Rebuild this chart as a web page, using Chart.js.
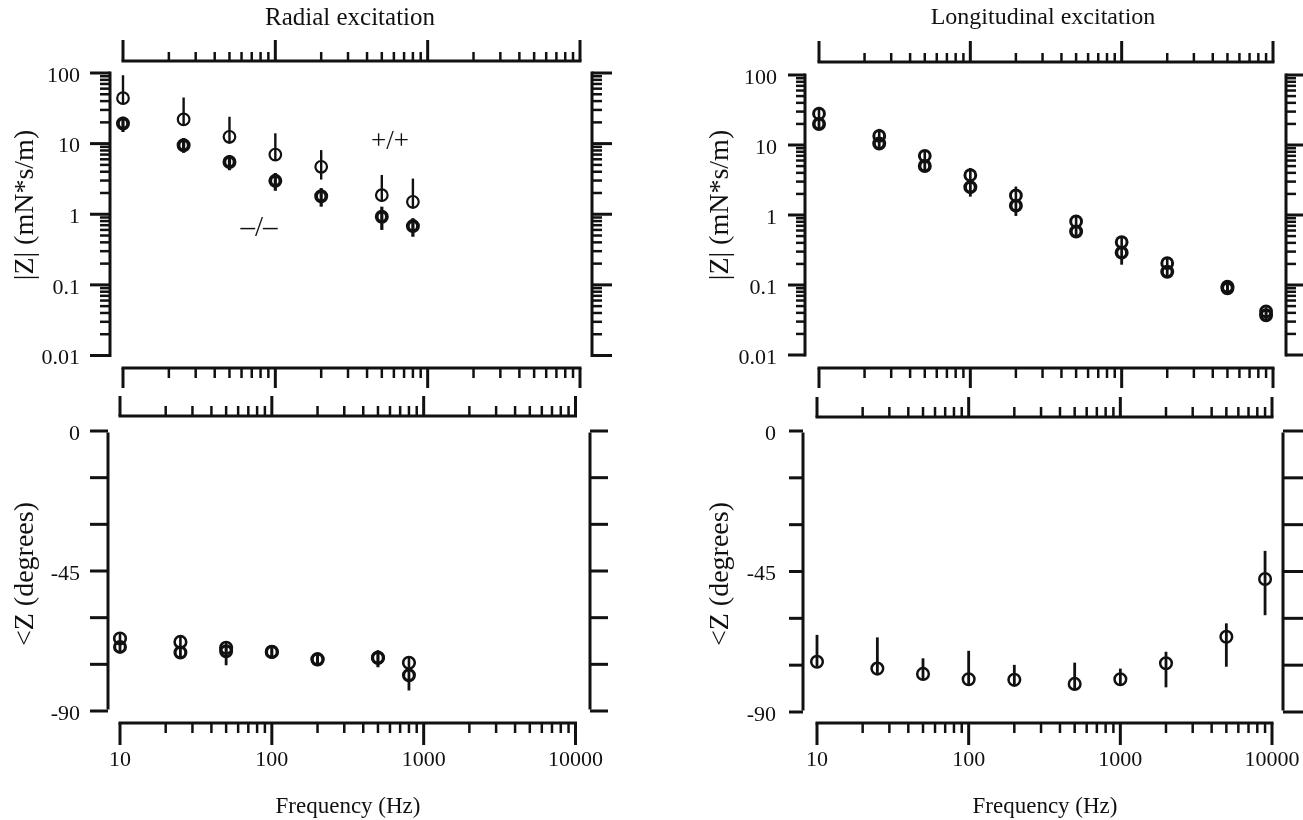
<!DOCTYPE html>
<html>
<head>
<meta charset="utf-8">
<script src="https://cdn.jsdelivr.net/npm/chart.js@4.4.1/dist/chart.umd.min.js"></script>
<style>
  html, body { margin: 0; padding: 0; background: #fff; }
  #wrap { position: relative; width: 1303px; height: 820px; overflow: hidden; }
  #wrap canvas { position: absolute; left: 0; top: 0; }
</style>
</head>
<body>
<div id="wrap">
  <canvas id="magRadial" width="1303" height="820"></canvas>
  <canvas id="phaseRadial" width="1303" height="820"></canvas>
  <canvas id="magLong" width="1303" height="820"></canvas>
  <canvas id="phaseLong" width="1303" height="820"></canvas>
</div>
<script>
// --- datos ---
const freqRadial = [10, 25, 50, 100, 200, 500, 800];
const magRadialPP = [44, 22, 12.5, 7.0, 4.7, 1.86, 1.5];
const magRadialPPHi = [93, 45, 24, 14, 8.1, 3.6, 3.2];
const magRadialPPLo = [36, 18, 10, 5.7, 3.1, 1.5, 1.2];
const magRadialMM = [19.3, 9.5, 5.5, 2.97, 1.8, 0.92, 0.68];
const magRadialMMHi = [24, 12, 6.9, 3.84, 2.35, 1.28, 0.88];
const magRadialMMLo = [14.6, 7.4, 4.2, 2.15, 1.28, 0.6, 0.48];

const phaseRadialPP = [-66.7, -67.8, -69.7, -71.0, -73.4, -72.9, -74.5];
const phaseRadialPPHi = [-65.0, -65.7, -68.0, -69.5, -72.0, -70.5, -72.6];
const phaseRadialPPLo = [-68.5, -69.5, -71.5, -72.5, -75.0, -75.9, -76.0];
const phaseRadialMM = [-69.4, -71.2, -70.8, -71.0, -73.4, -72.9, -78.5];
const phaseRadialMMHi = [-68.0, -70.0, -69.0, -69.5, -72.0, -70.5, -76.5];
const phaseRadialMMLo = [-71.0, -73.0, -75.3, -72.5, -75.0, -75.9, -83.4];

const freqLong = [10, 25, 50, 100, 200, 500, 1000, 2000, 5000, 9000];
const magLongA = [28, 13.5, 7.0, 3.7, 1.9, 0.81, 0.41, 0.205, 0.095, 0.042];
const magLongAHi = [35, 17, 8.5, 4.7, 2.55, 1.0, 0.5, 0.25, 0.11, 0.048];
const magLongALo = [24, 11.5, 6.0, 3.2, 1.6, 0.7, 0.35, 0.18, 0.085, 0.038];
const magLongB = [20, 10.5, 5.0, 2.5, 1.36, 0.58, 0.29, 0.155, 0.09, 0.037];
const magLongBHi = [23, 12, 5.8, 2.9, 1.6, 0.67, 0.34, 0.18, 0.1, 0.042];
const magLongBLo = [16.5, 8.6, 4.1, 1.83, 0.97, 0.48, 0.195, 0.128, 0.078, 0.032];

const phaseLongVals = [-73.9, -76.1, -77.8, -79.5, -79.7, -81.0, -79.5, -74.4, -65.9, -47.4];
const phaseLongHi = [-65.3, -66.1, -72.8, -70.4, -74.9, -74.2, -76.1, -70.7, -61.6, -38.4];
const phaseLongLo = [-75.5, -77.8, -79.5, -81.3, -81.4, -82.7, -81.2, -82.1, -75.5, -59.0];

const freqTicks = [10, 100, 1000, 10000];
const freqTickLabels = ['10', '100', '1000', '10000'];
const magTicks = [0.01, 0.1, 1, 10, 100];
const magTickLabels = ['0.01', '0.1', '1', '10', '100'];
const phaseTicks = [0, -15, -30, -45, -60, -75, -90];
const phaseLabelTicks = [0, -45, -90];
const phaseTickLabels = ['0', '-45', '-90'];

const W = 1303, H = 820;
const INK = '#111';
const FONT = "'Liberation Serif', 'Times New Roman', serif";

function logMinors(majors) {
    const out = [];
    for (let i = 0; i < majors.length - 1; i++)
        for (let k = 2; k < 10; k++) out.push(majors[i] * k);
    return out;
}
const freqMinor = logMinors(freqTicks);
const magMinor = logMinors(magTicks);

function line(ctx, x0, y0, x1, y1, w) {
    ctx.lineWidth = w;
    ctx.beginPath(); ctx.moveTo(x0, y0); ctx.lineTo(x1, y1); ctx.stroke();
}

// ejes "separados" tipo marco + barras de error, todo con las escalas de Chart.js
const framePlugin = {
    id: 'frame',
    afterDatasetsDraw(chart, args, o) {
        const ctx = chart.ctx, xs = chart.scales.x, ys = chart.scales.y;
        ctx.save();
        ctx.strokeStyle = INK; ctx.fillStyle = INK; ctx.lineCap = 'butt';

        chart.data.datasets.forEach(ds => {
            ds.data.forEach((p, i) => {
                const x = xs.getPixelForValue(p.x);
                line(ctx, x, ys.getPixelForValue(ds.errLo[i]), x, ys.getPixelForValue(ds.errHi[i]), ds.errWidth);
            });
        });

        o.xAxes.forEach(a => {
            const x0 = xs.getPixelForValue(o.xMajor[0]), x1 = xs.getPixelForValue(o.xMajor[o.xMajor.length - 1]);
            line(ctx, x0 - 1.5, a.y, x1 + 1.5, a.y, 3);
            o.xMajor.forEach(v => { const x = xs.getPixelForValue(v); line(ctx, x, a.y, x, a.y + a.dir * a.major, 3); });
            o.xMinor.forEach(v => { const x = xs.getPixelForValue(v); line(ctx, x, a.y, x, a.y + a.dir * a.minor, 2.5); });
        });
        o.yAxes.forEach(a => {
            const y0 = ys.getPixelForValue(o.yMajor[0]), y1 = ys.getPixelForValue(o.yMajor[o.yMajor.length - 1]);
            line(ctx, a.x, y0 + 1.5, a.x, y1 - 1.5, 3);
            o.yMajor.forEach(v => { const y = ys.getPixelForValue(v); line(ctx, a.x, y, a.x + a.dir * a.major, y, 3); });
            o.yMinor.forEach(v => { const y = ys.getPixelForValue(v); line(ctx, a.x, y, a.x + a.dir * a.minor, y, 2.5); });
        });

        ctx.font = '22px ' + FONT;
        if (o.yLabels) {
            ctx.textAlign = 'right'; ctx.textBaseline = 'middle';
            o.yLabels.values.forEach((v, i) => ctx.fillText(o.yLabels.texts[i], o.yLabels.x, ys.getPixelForValue(v) + 3));
        }
        if (o.xLabels) {
            ctx.textAlign = 'center'; ctx.textBaseline = 'middle';
            o.xLabels.values.forEach((v, i) => ctx.fillText(o.xLabels.texts[i], xs.getPixelForValue(v), o.xLabels.y));
        }
        (o.texts || []).forEach(t => {
            ctx.save();
            ctx.font = t.size + 'px ' + FONT;
            ctx.textAlign = 'center'; ctx.textBaseline = 'middle';
            ctx.translate(t.x, t.y);
            if (t.rotate) ctx.rotate(-Math.PI / 2);
            ctx.fillText(t.text, 0, 0);
            ctx.restore();
        });
        ctx.restore();
    }
};

function series(xv, yv, lo, hi, radius, width, errWidth) {
    return {
        data: xv.map((f, i) => ({ x: f, y: yv[i] })),
        errLo: lo, errHi: hi, errWidth: errWidth,
        pointStyle: 'circle', pointRadius: radius, pointBorderWidth: width,
        pointBorderColor: INK, pointBackgroundColor: 'rgba(0,0,0,0)',
        showLine: false, clip: false
    };
}

function makePanel(id, area, yScale, datasets, frame) {
    return new Chart(document.getElementById(id), {
        type: 'scatter',
        data: { datasets: datasets },
        options: {
            responsive: false, animation: false, events: [],
            layout: { autoPadding: false, padding: { left: area.left, top: area.top, right: W - area.right, bottom: H - area.bottom } },
            scales: {
                x: { type: 'logarithmic', min: 10, max: 10000, display: false },
                y: Object.assign({ display: false }, yScale)
            },
            plugins: { legend: { display: false }, tooltip: { enabled: false }, frame: frame }
        },
        plugins: [framePlugin]
    });
}

const magScale = { type: 'logarithmic', min: 0.01, max: 100 };
const phaseScale = { type: 'linear', min: -90, max: 0 };

// 1. Radial: magnitud
makePanel('magRadial', { left: 123, right: 580, top: 73, bottom: 355.5 }, magScale, [
    series(freqRadial, magRadialPP, magRadialPPLo, magRadialPPHi, 5.8, 2.2, 2.4),
    series(freqRadial, magRadialMM, magRadialMMLo, magRadialMMHi, 5.1, 3.8, 3.2)
], {
    xMajor: freqTicks, xMinor: freqMinor, yMajor: magTicks, yMinor: magMinor,
    xAxes: [{ y: 61, dir: -1, major: 21, minor: 9 }, { y: 368, dir: 1, major: 20, minor: 10 }],
    yAxes: [{ x: 110, dir: -1, major: 20, minor: 10 }, { x: 592, dir: 1, major: 20, minor: 10 }],
    yLabels: { x: 80, values: magTicks, texts: magTickLabels },
    texts: [
        { text: 'Radial excitation', x: 350, y: 18, size: 25 },
        { text: '|Z| (mN*s/m)', x: 26, y: 205, size: 28, rotate: true },
        { text: '+/+', x: 390, y: 142, size: 27 },
        { text: '\u2013/\u2013', x: 259, y: 228, size: 29 }
    ]
});

// 2. Radial: fase
makePanel('phaseRadial', { left: 120, right: 575.5, top: 431, bottom: 711 }, phaseScale, [
    series(freqRadial, phaseRadialPP, phaseRadialPPLo, phaseRadialPPHi, 5.8, 2.6, 2.6),
    series(freqRadial, phaseRadialMM, phaseRadialMMLo, phaseRadialMMHi, 5.4, 3.2, 2.8)
], {
    xMajor: freqTicks, xMinor: freqMinor, yMajor: phaseTicks, yMinor: [],
    xAxes: [{ y: 416, dir: -1, major: 20, minor: 10 }, { y: 723, dir: 1, major: 22, minor: 10 }],
    yAxes: [{ x: 108, dir: -1, major: 18, minor: 0 }, { x: 590, dir: 1, major: 18, minor: 0 }],
    yLabels: { x: 80, values: phaseLabelTicks, texts: phaseTickLabels },
    xLabels: { y: 760, values: freqTicks, texts: freqTickLabels },
    texts: [
        { text: '<Z (degrees)', x: 26, y: 574, size: 28, rotate: true },
        { text: 'Frequency (Hz)', x: 348, y: 807, size: 23 }
    ]
});

// 3. Longitudinal: magnitud
makePanel('magLong', { left: 819, right: 1273, top: 75, bottom: 355 }, magScale, [
    series(freqLong, magLongA, magLongALo, magLongAHi, 5.4, 3.0, 2.6),
    series(freqLong, magLongB, magLongBLo, magLongBHi, 5.2, 3.6, 2.8)
], {
    xMajor: freqTicks, xMinor: freqMinor, yMajor: magTicks, yMinor: magMinor,
    xAxes: [{ y: 62, dir: -1, major: 21, minor: 9 }, { y: 368, dir: 1, major: 20, minor: 10 }],
    yAxes: [{ x: 805, dir: -1, major: 17, minor: 9 }, { x: 1286, dir: 1, major: 20, minor: 10 }],
    yLabels: { x: 777, values: magTicks, texts: magTickLabels },
    texts: [
        { text: 'Longitudinal excitation', x: 1043, y: 18, size: 24 },
        { text: '|Z| (mN*s/m)', x: 721, y: 205, size: 28, rotate: true }
    ]
});

// 4. Longitudinal: fase
makePanel('phaseLong', { left: 817, right: 1272, top: 431, bottom: 712 }, phaseScale, [
    series(freqLong, phaseLongVals, phaseLongLo, phaseLongHi, 5.8, 2.5, 2.8)
], {
    xMajor: freqTicks, xMinor: freqMinor, yMajor: phaseTicks, yMinor: [],
    xAxes: [{ y: 417, dir: -1, major: 20, minor: 10 }, { y: 723, dir: 1, major: 22, minor: 10 }],
    yAxes: [{ x: 803, dir: -1, major: 14, minor: 0 }, { x: 1283, dir: 1, major: 20, minor: 0 }],
    yLabels: { x: 776, values: phaseLabelTicks, texts: phaseTickLabels },
    xLabels: { y: 760, values: freqTicks, texts: freqTickLabels },
    texts: [
        { text: '<Z (degrees)', x: 721, y: 574, size: 28, rotate: true },
        { text: 'Frequency (Hz)', x: 1045, y: 807, size: 23 }
    ]
});
</script>
</body>
</html>
